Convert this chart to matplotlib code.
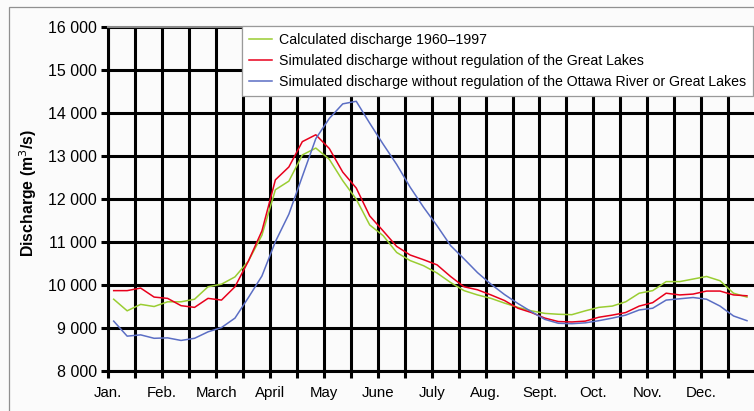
import numpy as np
from matplotlib import pyplot as plt
from matplotlib.patches import Rectangle

plt.rcParams['font.family'] = ['Liberation Sans', 'DejaVu Sans']

months = ['Jan.', 'Feb.', 'March', 'April', 'May', 'June', 'July', 'Aug.', 'Sept.', 'Oct.', 'Nov.', 'Dec.']

# discharge read at quarter-month steps, Jan. -> Dec.
calculated = [9660, 9390, 9540, 9490, 9600, 9600, 9660, 9950, 10010, 10180, 10550, 11150,
              12210, 12410, 13020, 13180, 12920, 12420, 11990, 11390, 11140, 10750,
              10560, 10440, 10270, 10050, 9860, 9760, 9680, 9570, 9470, 9390,
              9330, 9310, 9300, 9390, 9470, 9500, 9600, 9800, 9860, 10070,
              10070, 10130, 10190, 10090, 9800, 9710]
no_great_lakes = [9860, 9860, 9920, 9710, 9680, 9510, 9470, 9680, 9640, 9950, 10550, 11250,
                  12440, 12740, 13330, 13490, 13170, 12620, 12250, 11600, 11250, 10890,
                  10690, 10580, 10460, 10190, 9950, 9880, 9760, 9630, 9450, 9350,
                  9220, 9140, 9130, 9150, 9240, 9290, 9350, 9500, 9580, 9800,
                  9760, 9780, 9850, 9850, 9760, 9740]
no_ottawa = [9150, 8800, 8830, 8750, 8760, 8700, 8750, 8900, 9000, 9220, 9700, 10200,
             11000, 11640, 12520, 13400, 13870, 14210, 14270, 13760, 13270, 12800,
             12270, 11800, 11370, 10910, 10600, 10280, 10010, 9770, 9560, 9370,
             9190, 9100, 9090, 9110, 9160, 9220, 9290, 9410, 9450, 9640,
             9670, 9700, 9660, 9500, 9270, 9160]

labels = ['Calculated discharge 1960\u20131997',
          'Simulated discharge without regulation of the Great Lakes',
          'Simulated discharge without regulation of the Ottawa River or Great Lakes']
colors = ['#9acd32', '#e8001c', '#5b6ec4']

W, H = 754, 411
fig = plt.figure(figsize=(W/100, H/100), dpi=100, facecolor='#fbfbfb')
fig.patches.append(Rectangle((9/W, -0.1), 1.1, 1 - 7/H + 0.1, transform=fig.transFigure,
                             fill=False, edgecolor='#909090', lw=0.9))

ax = fig.add_axes([108.3/W, 40.5/H, 1 - 108.3/W, (370.5-27)/H])
ax.set_facecolor('#fbfbfb')

x = (np.arange(len(calculated)) + 0.4) / 4
series = [calculated, no_great_lakes, no_ottawa]
for ys, lab, c in zip(series, labels, colors):
  ax.plot(x, ys, color=c, lw=1.1, label=lab, zorder=3)

ax.set_xlim(0, 11.98)
ax.set_ylim(8000, 16000)
ax.set_xticks(np.arange(12))
ax.set_xticklabels(months)
ax.set_xticks(np.arange(0, 12, 0.5), minor=True)
ax.set_yticks(np.arange(8000, 16001, 1000))
ax.set_yticklabels([f'{v//1000} 000' for v in range(8000, 16001, 1000)])

ax.grid(True, which='both', color='black', lw=2.2)
ax.tick_params(axis='both', which='both', direction='out', length=5, width=2.2, color='black')
ax.tick_params(axis='y', labelsize=11.5, pad=3)
ax.tick_params(axis='x', labelsize=10.8, pad=6)
for s in ['left', 'bottom']:
  ax.spines[s].set_linewidth(2.2)
ax.spines['right'].set_visible(False)
ax.spines['top'].set_color('#8a8a8a')
ax.spines['top'].set_linewidth(1.5)

ax.set_ylabel('Discharge (m$^3$/s)', fontsize=11.4, fontweight='bold')
ax.yaxis.set_label_coords(-0.108, 0.518)

leg = ax.legend(loc='upper left', bbox_to_anchor=(242/W, 1 - 26/H), bbox_transform=fig.transFigure,
                fontsize=10.2, frameon=True, fancybox=False, framealpha=1, edgecolor='#9a9a9a',
                handlelength=1.6, handletextpad=0.5, borderaxespad=0, labelspacing=0.5,
                borderpad=0.5)
leg.get_frame().set_linewidth(0.9)
leg.set_zorder(5)

fig.savefig('out.png', dpi=100, facecolor=fig.get_facecolor())
